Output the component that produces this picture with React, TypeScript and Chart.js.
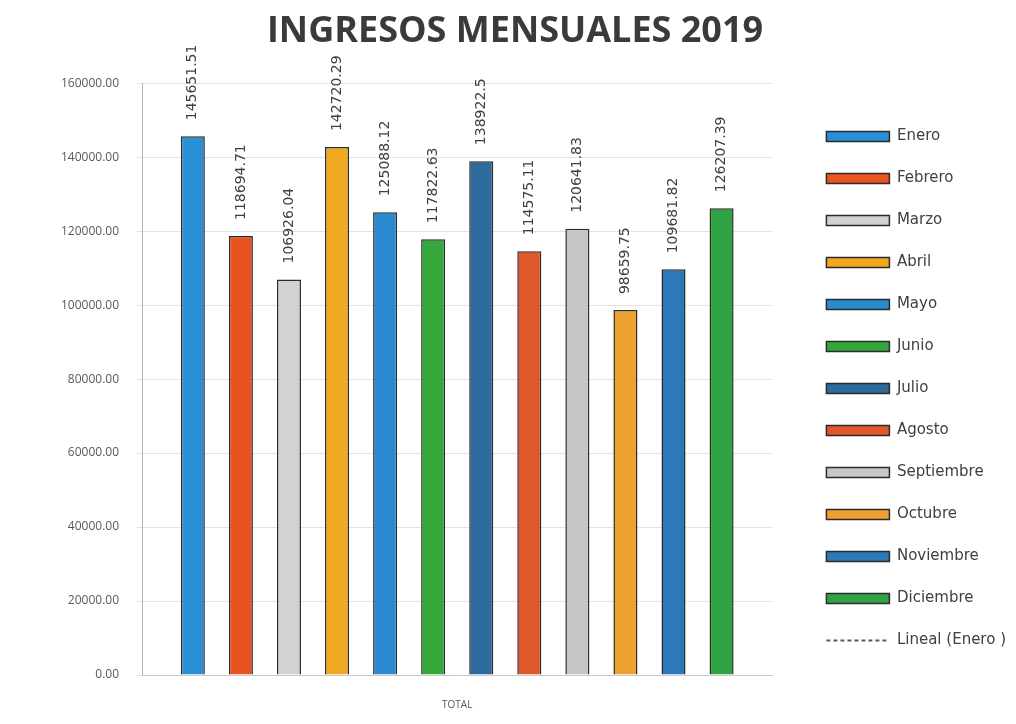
import React, { useEffect, useRef } from "react";
import { Chart, registerables } from "chart.js";

Chart.register(...registerables);

const CATEGORIES = ["TOTAL"];
const MONTHS = [
  "Enero", "Febrero", "Marzo", "Abril", "Mayo", "Junio",
  "Julio", "Agosto", "Septiembre", "Octubre", "Noviembre", "Diciembre",
];
const INCOME = [
  145651.51, 118694.71, 106926.04, 142720.29, 125088.12, 117822.63,
  138922.5, 114575.11, 120641.83, 98659.75, 109681.82, 126207.39,
];
const COLORS = [
  "#2a8fd4", "#e8531f", "#d2d2d2", "#f2a922", "#2a8ad0", "#34a83a",
  "#2e6a9e", "#e0582a", "#c6c6c6", "#eea030", "#2d78b8", "#2fa243",
];
const TREND_LABEL = "Lineal (Enero )";
const TREND_VALUES = [INCOME[0]];
const Y_MIN = 0;
const Y_MAX = 160000;
const Y_STEP = 20000;
const TITLE = "INGRESOS MENSUALES 2019";

// extra blank gap between the plot area and the legend
const PLOT_LEGEND_GAP = 27;

const plotGap = {
  id: "plotGap",
  afterLayout(chart: any) {
    const d = PLOT_LEGEND_GAP;
    chart.chartArea.right -= d;
    chart.chartArea.width -= d;
    const x = chart.scales.x;
    x.right -= d;
    x.width -= d;
    x.configure();
  },
};

const barLabels = {
  id: "barLabels",
  afterDatasetsDraw(chart: any) {
    const ctx = chart.ctx;
    chart.data.datasets.forEach((ds: any, i: number) => {
      if (ds.type === "line") return;
      const meta = chart.getDatasetMeta(i);
      meta.data.forEach((el: any, j: number) => {
        const v = ds.data[j];
        ctx.save();
        ctx.translate(el.x, el.y - 16);
        ctx.rotate(-Math.PI / 2);
        ctx.font = "14px 'DejaVu Sans'";
        ctx.fillStyle = "#404040";
        ctx.textAlign = "left";
        ctx.textBaseline = "middle";
        ctx.fillText(String(v), 0, 0);
        ctx.restore();
      });
    });
  },
};

export default function App() {
  const ref = useRef<HTMLCanvasElement>(null);
  useEffect(() => {
    if (!ref.current) return;
    const datasets: any[] = MONTHS.map((m, i) => ({
      type: "bar",
      label: m,
      data: [INCOME[i]],
      backgroundColor: COLORS[i],
      borderColor: "#2b2b2b",
      borderWidth: 1.5,
      yAxisID: "y",
      categoryPercentage: 0.915,
      barPercentage: 0.5,
    }));
    datasets.push({
      type: "line",
      label: TREND_LABEL,
      data: TREND_VALUES,
      borderColor: "#595959",
      borderDash: [4, 3],
      borderWidth: 2,
      pointRadius: 0,
      yAxisID: "y",
    });
    const chart = new Chart(ref.current, {
      type: "bar",
      data: { labels: CATEGORIES, datasets },
      plugins: [plotGap, barLabels],
      options: {
        responsive: false,
        animation: false,
        layout: { padding: { left: 14, right: 0, top: 0, bottom: 13 } },
        plugins: {
          tooltip: { enabled: false },
          title: {
            display: true,
            text: TITLE,
            color: "#3a3a3a",
            font: { family: "'Open Sans'", size: 36, weight: "bold" },
            padding: { top: 10, bottom: 30 },
          },
          legend: {
            position: "right",
            align: "end",
            fullSize: false,
            labels: {
              usePointStyle: true,
              pointStyleWidth: 63,
              boxHeight: 10,
              padding: 27,
              color: "#404040",
              font: { family: "'DejaVu Sans'", size: 15 },
              generateLabels: (chart: any) => {
                const items = (Chart as any).defaults.plugins.legend.labels.generateLabels(chart);
                return items.map((it: any, i: number) => {
                  const ds = chart.data.datasets[it.datasetIndex];
                  if (ds.type === "line") {
                    return { ...it, pointStyle: "line", strokeStyle: "#595959", lineWidth: 2, lineDash: [4, 3], fillStyle: "rgba(0,0,0,0)" };
                  }
                  return { ...it, pointStyle: "rect", fillStyle: COLORS[i], strokeStyle: "#2b2b2b", lineWidth: 1.5, lineDash: [] };
                });
              },
            },
          },
        },
        scales: {
          x: {
            afterFit: (s: any) => { s.height = 36; },
            grid: { display: false, drawTicks: false },
            border: { display: true, color: "#c8c8c8" },
            ticks: { padding: 24, color: "#595959", font: { family: "'Open Sans'", size: 10 } },
          },
          y: {
            position: "left",
            min: Y_MIN,
            max: Y_MAX,
            afterFit: (s: any) => { s.width = 128; },
            grid: { color: "#e3e3e3", tickLength: 5 },
            border: { display: true, color: "#b4b4b4" },
            ticks: {
              stepSize: Y_STEP,
              padding: 18,
              color: "#595959",
              font: { family: "'Open Sans'", size: 12 },
              callback: (v: any) => Number(v).toFixed(2),
            },
          },
        },
      } as any,
    });
    return () => chart.destroy();
  }, []);
  return (
    <div style={{ position: "absolute", left: 0, top: 0, width: 1016, height: 724, background: "#fff" }}>
      <canvas ref={ref} width={1016} height={724} />
    </div>
  );
}
